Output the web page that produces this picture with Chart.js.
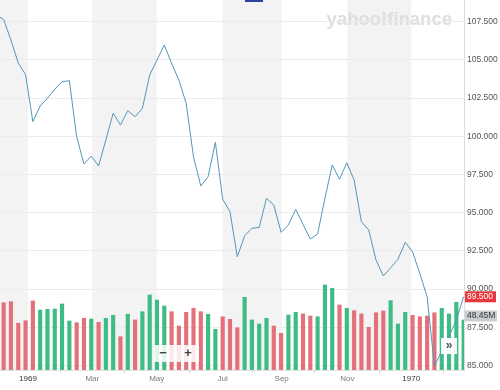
<!DOCTYPE html>
<html>
<head>
<meta charset="utf-8">
<script src="https://cdn.jsdelivr.net/npm/chart.js@4/dist/chart.umd.min.js"></script>
<style>
html, body { margin: 0; padding: 0; background: #fff; }
</style>
</head>
<body>
<canvas id="chart" width="500" height="390"></canvas>
<script>
// weekly closes, the first one sits just off the left edge
let closes = [107.94, 107.64, 106.30, 104.80, 104.04, 100.96, 101.98, 102.49, 103.08, 103.57,
    103.64, 99.97, 98.19, 98.71, 98.06, 99.76, 101.51, 100.74, 101.68, 101.28,
    101.83, 104.01, 104.99, 105.98, 104.78, 103.68, 102.16, 98.66, 96.75, 97.36,
    99.61, 95.88, 95.07, 92.12, 93.48, 93.98, 94.04, 95.94, 95.50, 93.72,
    94.20, 95.22, 94.24, 93.28, 93.61, 95.94, 98.12, 97.19, 98.27, 97.14,
    94.41, 93.87, 91.90, 90.86, 91.40, 91.95, 93.06, 92.45, 91.03, 89.50,
    84.97, 85.95, 86.93, 87.98, 89.50];

// weekly volume, millions
let volumes = [60, 65.2, 66.2, 45.3, 47.8, 66.9, 58.1, 58.8, 59.1, 64.0,
    47.5, 45.8, 50.1, 49.4, 46.2, 50.1, 53.0, 32.3, 54.0, 48.5,
    56.5, 72.7, 67.8, 62.0, 56.5, 42.6, 55.9, 59.8, 56.5, 54.0,
    39.4, 51.6, 49.1, 41.0, 70.4, 48.5, 44.6, 50.1, 42.6, 35.6,
    53.3, 55.9, 54.3, 52.3, 51.6, 82.4, 79.2, 63.0, 59.8, 57.5,
    54.3, 41.4, 55.5, 57.2, 67.2, 44.6, 55.9, 53.0, 51.6, 52.3,
    55.5, 59.8, 54.3, 65.6, 48.45];

let weekIdx = closes.map((c, i) => i - 1);

// month boundaries in week units
let monthPos = [3.33, 12.14, 20.96, 30.0, 38.08, 47.07, 55.82];
let monthLabels = ['1969', 'Mar', 'May', 'Jul', 'Sep', 'Nov', '1970'];

let priceTicks = [85, 87.5, 90, 92.5, 95, 97.5, 100, 102.5, 105, 107.5];

let upColor = '#3fbc85';
let downColor = '#e4717a';
let barColors = closes.map((c, i) => (i === 0 || c >= closes[i - 1]) ? upColor : downColor);

let font = '"Liberation Sans", Arial, sans-serif';

const bandsPlugin = {
    id: 'bands',
    beforeDraw(chart) {
        let ctx = chart.ctx, a = chart.chartArea, x = chart.scales.x;
        ctx.save();
        ctx.fillStyle = '#f3f3f3';
        let edges = [x.min].concat(monthPos);
        for (let i = 0; i + 1 < edges.length; i += 2) {
            let l = x.getPixelForValue(edges[i]);
            let r = x.getPixelForValue(edges[i + 1]);
            ctx.fillRect(l, a.top, r - l, a.bottom - a.top);
        }
        ctx.font = 'bold 18.5px ' + font;
        ctx.fillStyle = '#dedede';
        ctx.textAlign = 'right';
        ctx.textBaseline = 'alphabetic';
        ctx.fillText('yahoo!finance', a.right - 12, a.top + 25);
        ctx.restore();
    }
};

const overlayPlugin = {
    id: 'overlay',
    afterDraw(chart) {
        let ctx = chart.ctx, a = chart.chartArea;
        let y = chart.scales.y, vol = chart.scales.vol;
        ctx.save();

        // little blue tab cut off at the top
        ctx.fillStyle = '#2f3f9e';
        ctx.fillRect(245, 0, 18, 2);

        // last price badge
        let py = y.getPixelForValue(closes[closes.length - 1]);
        ctx.fillStyle = '#e8373d';
        ctx.fillRect(a.right + 1, py - 5.5, 31, 11);
        ctx.fillStyle = '#fff';
        ctx.font = '8.5px ' + font;
        ctx.textAlign = 'left';
        ctx.textBaseline = 'middle';
        ctx.fillText('89.500', a.right + 3, py);

        // last volume badge
        let vy = vol.getPixelForValue(volumes[volumes.length - 1]) - 4;
        ctx.fillStyle = '#c9ccd3';
        ctx.fillRect(a.right + 1, vy - 5.5, 32, 11);
        ctx.fillStyle = '#333';
        ctx.fillText('48.45M', a.right + 3, vy);

        // zoom buttons
        ctx.fillStyle = 'rgba(255,255,255,0.85)';
        ctx.fillRect(154, 345, 45, 17);
        ctx.fillStyle = '#444';
        ctx.font = 'bold 13px ' + font;
        ctx.textAlign = 'center';
        ctx.fillText('\u2212', 163, 353.5);
        ctx.fillText('+', 188, 353.5);

        // scroll button
        ctx.fillStyle = 'rgba(255,255,255,0.95)';
        ctx.fillRect(441, 338, 16, 16);
        ctx.fillStyle = '#555';
        ctx.font = 'bold 12px ' + font;
        ctx.fillText('\u00bb', 449, 345.5);
        ctx.restore();
    }
};

let ctx = document.getElementById('chart').getContext('2d');

let chart = new Chart(ctx, {
    data: {
        datasets: [{
            type: 'line',
            data: closes.map((c, i) => ({ x: weekIdx[i], y: c })),
            yAxisID: 'y',
            borderColor: '#5296b9',
            borderWidth: 1,
            pointRadius: 0,
            tension: 0,
            order: 0
        }, {
            type: 'bar',
            data: volumes.map((v, i) => ({ x: weekIdx[i], y: v })),
            yAxisID: 'vol',
            backgroundColor: barColors,
            barThickness: 3.5,
            order: 1
        }]
    },
    options: {
        responsive: false,
        animation: false,
        layout: { padding: 0 },
        plugins: { legend: { display: false }, tooltip: { enabled: false } },
        scales: {
            x: {
                type: 'linear',
                offset: false,
                min: -0.5,
                max: 63.05,
                afterBuildTicks: s => { s.ticks = monthPos.map(v => ({ value: v })); },
                afterFit: s => { s.height = 20; s.paddingLeft = 0; s.paddingRight = 0; },
                ticks: {
                    autoSkip: false,
                    maxRotation: 0,
                    padding: 1,
                    callback: (v, i) => monthLabels[i],
                    font: { family: font, size: 8 },
                    color: c => (c.index === 0 || c.index === 6) ? '#333' : '#7a7a7a'
                },
                grid: { drawOnChartArea: false, color: '#cfcfcf', tickLength: 3 },
                border: { color: '#e3e3e3' }
            },
            y: {
                position: 'right',
                min: 84.71,
                max: 108.92,
                afterBuildTicks: s => { s.ticks = priceTicks.map(v => ({ value: v })); },
                afterFit: s => { s.width = 36; s.paddingTop = 0; s.paddingBottom = 0; },
                ticks: {
                    padding: 3,
                    callback: v => v.toFixed(3),
                    font: { family: font, size: 8.5 },
                    color: '#555'
                },
                grid: { color: '#ebebeb', drawTicks: false },
                border: { color: '#dcdcdc' }
            },
            vol: {
                display: false,
                min: 0,
                max: 358.5
            }
        }
    },
    plugins: [bandsPlugin, overlayPlugin]
});
</script>
</body>
</html>
